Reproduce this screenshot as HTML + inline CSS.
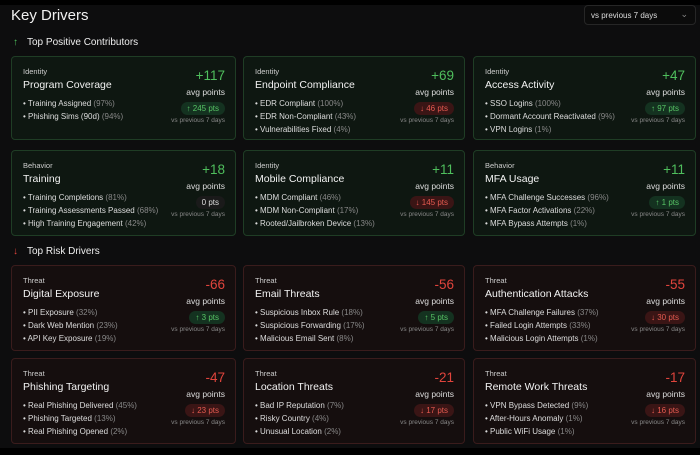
<!DOCTYPE html>
<html><head><style>
*{margin:0;padding:0;box-sizing:border-box}
body{width:700px;height:455px;background:#000;font-family:"Liberation Sans",sans-serif;position:relative;overflow:hidden;color:#e8e8e8}
.bg{position:absolute;left:0;top:5px;width:700px;height:443px;background:#0d0d0e}
.h1{position:absolute;left:11px;top:7px;font-size:15px;color:#f0f0f0}
.sel{position:absolute;left:584px;top:5px;width:112px;height:20px;border:1px solid #262626;border-radius:4px;background:#0b0b0b;font-size:8px;color:#ddd;padding:5px 0 0 6px}
.sel span{position:absolute;right:7px;top:3px;color:#888;font-size:9px}
.sec{position:absolute;left:13px;font-size:10px;color:#eee}
.sec b{display:inline-block;width:14px;font-weight:bold}
.card{position:absolute;border-radius:4px;border:1px solid}
.p{background:#0e1711;border-color:#1f3d25}
.r{background:#150e0e;border-color:#3a1c1c}
.cat{position:absolute;left:11px;top:10px;font-size:7.5px;color:#ccc}
.t{position:absolute;left:11px;top:22px;font-size:10.5px;color:#f2f2f2}
.ul{position:absolute;left:11px;top:40px;font-size:8px;color:#ddd;line-height:13px}
.ul i{font-style:normal;color:#888}
.num{position:absolute;right:10px;top:11px;font-size:13.5px}
.p .num{color:#4fbf5d}.r .num{color:#e0443c}
.avg{position:absolute;right:10px;top:30px;font-size:8.5px;color:#ddd}
.pill{position:absolute;right:10px;top:45px;font-size:8px;padding:2px 6px;border-radius:8px}
.g{background:#143220;color:#57c465}.d{background:#3a1515;color:#e55a50}.n{background:#1a1a1a;color:#ddd}
.vs{position:absolute;right:10px;top:60px;font-size:6.5px;color:#888}
</style></head><body>
<div class="bg"></div>
<div class="h1">Key Drivers</div>
<div class="sel">vs previous 7 days<span>⌄</span></div>
<div class="sec" style="top:37px"><b style="color:#4fbf5d">↑</b>Top Positive Contributors</div>
<div class="sec" style="top:246px"><b style="color:#e0443c">↓</b>Top Risk Drivers</div>

<div class="card p" style="left:11px;top:56px;width:225px;height:84px"><div class="cat">Identity</div><div class="t">Program Coverage</div><div class="ul">• Training Assigned <i>(97%)</i><br>• Phishing Sims (90d) <i>(94%)</i></div><div class="num">+117</div><div class="avg">avg points</div><div class="pill g">↑ 245 pts</div><div class="vs">vs previous 7 days</div></div>
<div class="card p" style="left:243px;top:56px;width:222px;height:84px"><div class="cat">Identity</div><div class="t">Endpoint Compliance</div><div class="ul">• EDR Compliant <i>(100%)</i><br>• EDR Non-Compliant <i>(43%)</i><br>• Vulnerabilities Fixed <i>(4%)</i></div><div class="num">+69</div><div class="avg">avg points</div><div class="pill d">↓ 46 pts</div><div class="vs">vs previous 7 days</div></div>
<div class="card p" style="left:473px;top:56px;width:223px;height:84px"><div class="cat">Identity</div><div class="t">Access Activity</div><div class="ul">• SSO Logins <i>(100%)</i><br>• Dormant Account Reactivated <i>(9%)</i><br>• VPN Logins <i>(1%)</i></div><div class="num">+47</div><div class="avg">avg points</div><div class="pill g">↑ 97 pts</div><div class="vs">vs previous 7 days</div></div>

<div class="card p" style="left:11px;top:150px;width:225px;height:86px"><div class="cat">Behavior</div><div class="t">Training</div><div class="ul">• Training Completions <i>(81%)</i><br>• Training Assessments Passed <i>(68%)</i><br>• High Training Engagement <i>(42%)</i></div><div class="num">+18</div><div class="avg">avg points</div><div class="pill n">0 pts</div><div class="vs">vs previous 7 days</div></div>
<div class="card p" style="left:243px;top:150px;width:222px;height:86px"><div class="cat">Identity</div><div class="t">Mobile Compliance</div><div class="ul">• MDM Compliant <i>(46%)</i><br>• MDM Non-Compliant <i>(17%)</i><br>• Rooted/Jailbroken Device <i>(13%)</i></div><div class="num">+11</div><div class="avg">avg points</div><div class="pill d">↓ 145 pts</div><div class="vs">vs previous 7 days</div></div>
<div class="card p" style="left:473px;top:150px;width:223px;height:86px"><div class="cat">Behavior</div><div class="t">MFA Usage</div><div class="ul">• MFA Challenge Successes <i>(96%)</i><br>• MFA Factor Activations <i>(22%)</i><br>• MFA Bypass Attempts <i>(1%)</i></div><div class="num">+11</div><div class="avg">avg points</div><div class="pill g">↑ 1 pts</div><div class="vs">vs previous 7 days</div></div>

<div class="card r" style="left:11px;top:265px;width:225px;height:86px"><div class="cat">Threat</div><div class="t">Digital Exposure</div><div class="ul">• PII Exposure <i>(32%)</i><br>• Dark Web Mention <i>(23%)</i><br>• API Key Exposure <i>(19%)</i></div><div class="num">-66</div><div class="avg">avg points</div><div class="pill g">↑ 3 pts</div><div class="vs">vs previous 7 days</div></div>
<div class="card r" style="left:243px;top:265px;width:222px;height:86px"><div class="cat">Threat</div><div class="t">Email Threats</div><div class="ul">• Suspicious Inbox Rule <i>(18%)</i><br>• Suspicious Forwarding <i>(17%)</i><br>• Malicious Email Sent <i>(8%)</i></div><div class="num">-56</div><div class="avg">avg points</div><div class="pill g">↑ 5 pts</div><div class="vs">vs previous 7 days</div></div>
<div class="card r" style="left:473px;top:265px;width:223px;height:86px"><div class="cat">Threat</div><div class="t">Authentication Attacks</div><div class="ul">• MFA Challenge Failures <i>(37%)</i><br>• Failed Login Attempts <i>(33%)</i><br>• Malicious Login Attempts <i>(1%)</i></div><div class="num">-55</div><div class="avg">avg points</div><div class="pill d">↓ 30 pts</div><div class="vs">vs previous 7 days</div></div>

<div class="card r" style="left:11px;top:358px;width:225px;height:86px"><div class="cat">Threat</div><div class="t">Phishing Targeting</div><div class="ul">• Real Phishing Delivered <i>(45%)</i><br>• Phishing Targeted <i>(13%)</i><br>• Real Phishing Opened <i>(2%)</i></div><div class="num">-47</div><div class="avg">avg points</div><div class="pill d">↓ 23 pts</div><div class="vs">vs previous 7 days</div></div>
<div class="card r" style="left:243px;top:358px;width:222px;height:86px"><div class="cat">Threat</div><div class="t">Location Threats</div><div class="ul">• Bad IP Reputation <i>(7%)</i><br>• Risky Country <i>(4%)</i><br>• Unusual Location <i>(2%)</i></div><div class="num">-21</div><div class="avg">avg points</div><div class="pill d">↓ 17 pts</div><div class="vs">vs previous 7 days</div></div>
<div class="card r" style="left:473px;top:358px;width:223px;height:86px"><div class="cat">Threat</div><div class="t">Remote Work Threats</div><div class="ul">• VPN Bypass Detected <i>(9%)</i><br>• After-Hours Anomaly <i>(1%)</i><br>• Public WiFi Usage <i>(1%)</i></div><div class="num">-17</div><div class="avg">avg points</div><div class="pill d">↓ 16 pts</div><div class="vs">vs previous 7 days</div></div>
</body></html>
